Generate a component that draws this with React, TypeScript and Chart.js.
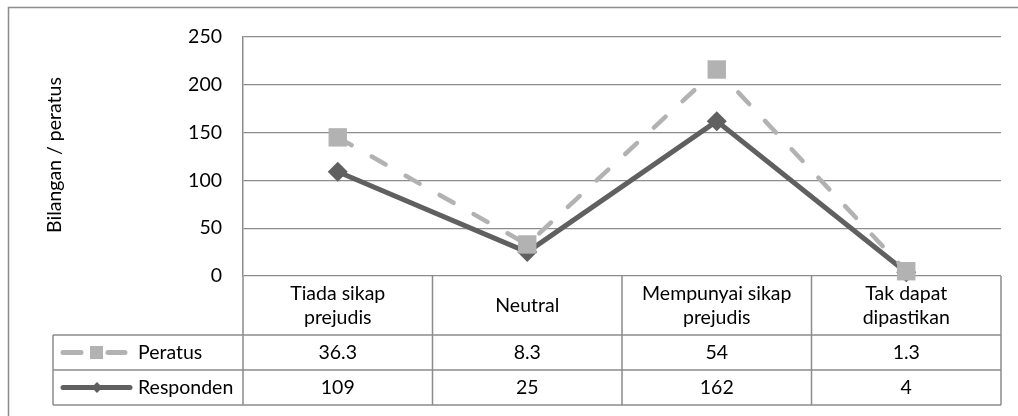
import React, { useEffect, useRef } from "react";
import { Chart, registerables } from "chart.js";

Chart.register(...registerables);

// ---- data ----
const categories: string[][] = [
  ["Tiada sikap", "prejudis"],
  ["Neutral"],
  ["Mempunyai sikap", "prejudis"],
  ["Tak dapat", "dipastikan"],
];
const seriesNames = ["Peratus", "Responden"];
const peratusPlotted = [145, 33, 216, 5];
const respondenValues = [109, 25, 162, 4];
const peratusTable = ["36.3", "8.3", "54", "1.3"];
const respondenTable = ["109", "25", "162", "4"];
const yTickMin = 0;
const yTickMax = 250;
const yTickStep = 50;
const yTitle = "Bilangan / peratus";

// ---- styles ----
const FONT = "Lato, 'Open Sans', sans-serif";
const FS = 19.5;
const LIGHT = "#b2b2b2";
const DARK = "#606060";
const GRID = "#8c8c8c";

const W = 1018;
const H = 416;

const drawPlugin = {
  id: "excelTable",
  afterDraw(chart: any) {
    const ctx: CanvasRenderingContext2D = chart.ctx;
    const { left, right, bottom } = chart.chartArea;
    const xs = chart.scales.x;
    const n = categories.length;
    const centers = categories.map((_, i) => xs.getPixelForValue(i));
    const bounds: number[] = [left];
    for (let i = 0; i < n - 1; i++) bounds.push((centers[i] + centers[i + 1]) / 2);
    bounds.push(right);
    const hTop = bottom;
    const hBot = bottom + 59;
    const r1 = hBot + 35;
    const r2 = r1 + 35;
    const tableLeft = 53;

    ctx.save();
    // outer chart border (left/top visible)
    ctx.strokeStyle = GRID;
    ctx.lineWidth = 1.5;
    ctx.beginPath();
    ctx.moveTo(8.5, H + 10);
    ctx.lineTo(8.5, 7.5);
    ctx.lineTo(W + 10, 7.5);
    ctx.stroke();

    // table lines
    ctx.beginPath();
    ctx.moveTo(tableLeft, hBot);
    ctx.lineTo(right, hBot);
    ctx.moveTo(tableLeft, r1);
    ctx.lineTo(right, r1);
    ctx.moveTo(tableLeft, r2);
    ctx.lineTo(right, r2);
    ctx.moveTo(tableLeft, hBot);
    ctx.lineTo(tableLeft, r2);
    bounds.forEach((b) => {
      ctx.moveTo(b, hTop);
      ctx.lineTo(b, r2);
    });
    ctx.stroke();

    // header text
    ctx.fillStyle = "#000";
    ctx.font = `${FS}px ${FONT}`;
    ctx.textAlign = "center";
    ctx.textBaseline = "middle";
    const lh = 23.5;
    categories.forEach((lines, i) => {
      const cy = (hTop + hBot) / 2;
      lines.forEach((t, j) => {
        ctx.fillText(t, centers[i], cy + (j - (lines.length - 1) / 2) * lh);
      });
    });
    // values
    const y1 = (hBot + r1) / 2;
    const y2 = (r1 + r2) / 2;
    peratusTable.forEach((t, i) => ctx.fillText(t, centers[i], y1));
    respondenTable.forEach((t, i) => ctx.fillText(t, centers[i], y2));

    // legend keys
    ctx.lineCap = "round";
    ctx.lineWidth = 5;
    ctx.strokeStyle = LIGHT;
    ctx.beginPath();
    ctx.moveTo(63, y1);
    ctx.lineTo(81, y1);
    ctx.moveTo(108, y1);
    ctx.lineTo(125, y1);
    ctx.stroke();
    ctx.fillStyle = LIGHT;
    ctx.fillRect(90, y1 - 6.5, 13, 13);

    ctx.strokeStyle = DARK;
    ctx.beginPath();
    ctx.moveTo(63, y2);
    ctx.lineTo(130, y2);
    ctx.stroke();
    ctx.fillStyle = DARK;
    ctx.beginPath();
    ctx.moveTo(97, y2 - 5.5);
    ctx.lineTo(102.5, y2);
    ctx.lineTo(97, y2 + 5.5);
    ctx.lineTo(91.5, y2);
    ctx.closePath();
    ctx.fill();

    ctx.fillStyle = "#000";
    ctx.textAlign = "left";
    ctx.fillText(seriesNames[0], 138, y1);
    ctx.fillText(seriesNames[1], 138, y2);

    // y axis title
    ctx.save();
    ctx.translate(55, 155);
    ctx.rotate(-Math.PI / 2);
    ctx.textAlign = "center";
    ctx.textBaseline = "middle";
    ctx.fillText(yTitle, 0, 0);
    ctx.restore();

    ctx.restore();
  },
};

export default function App() {
  const ref = useRef<HTMLCanvasElement | null>(null);
  useEffect(() => {
    if (!ref.current) return;
    const chart = new Chart(ref.current, {
      type: "line",
      data: {
        labels: categories.map((c) => c.join(" ")),
        datasets: [
          {
            label: seriesNames[0],
            data: peratusPlotted,
            borderColor: LIGHT,
            backgroundColor: LIGHT,
            borderWidth: 4.5,
            borderDash: [16, 23],
            borderCapStyle: "round",
            pointStyle: "rect",
            pointRadius: 13,
            pointBorderWidth: 0,
            pointBackgroundColor: LIGHT,
            tension: 0,
            clip: false,
          },
          {
            label: seriesNames[1],
            data: respondenValues,
            borderColor: DARK,
            backgroundColor: DARK,
            borderWidth: 5,
            borderCapStyle: "round",
            pointStyle: "rectRot",
            pointRadius: 10,
            pointBorderWidth: 0,
            pointBackgroundColor: DARK,
            tension: 0,
            clip: false,
          },
        ] as any,
      },
      options: {
        responsive: false,
        animation: false,
        layout: { padding: { left: 0, top: 37, right: 17, bottom: 140 } },
        plugins: {
          legend: { display: false },
          tooltip: { enabled: false },
          title: { display: false },
        },
        scales: {
          x: {
            type: "category",
            display: false,
            offset: true,
          },
          y: {
            min: yTickMin,
            max: yTickMax,
            ticks: {
              stepSize: yTickStep,
              color: "#000",
              padding: 21,
              font: { family: FONT, size: FS },
            },
            grid: {
              color: GRID,
              lineWidth: 1.3,
              drawTicks: false,
            },
            border: { display: true, color: GRID, width: 1.5 },
            afterFit: (scale: any) => {
              scale.width = 243;
            },
          },
        },
      },
      plugins: [drawPlugin],
    });
    return () => chart.destroy();
  }, []);
  return (
    <div style={{ position: "fixed", left: 0, top: 0, width: W, height: H, background: "#fff" }}>
      <canvas ref={ref} width={W} height={H} style={{ width: W, height: H, display: "block" }} />
    </div>
  );
}
